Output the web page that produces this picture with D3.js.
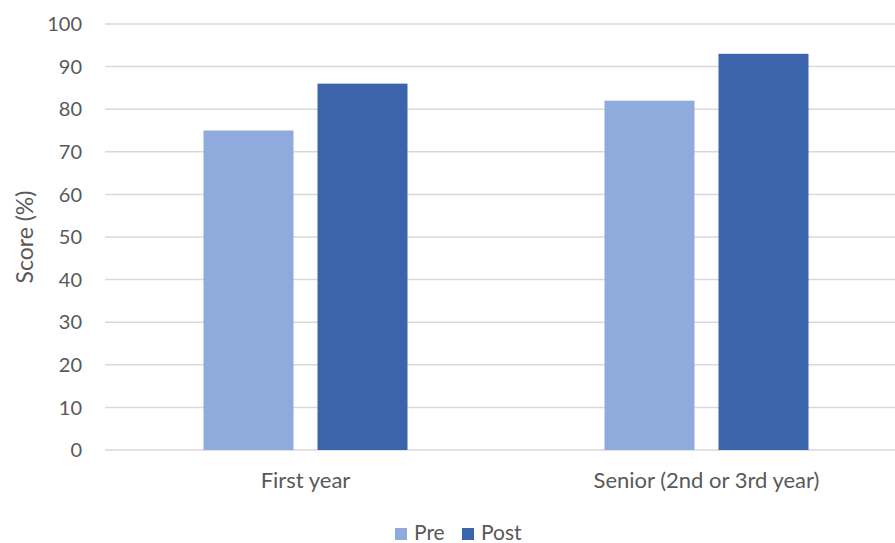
<!DOCTYPE html>
<html lang="en">
<head>
<meta charset="utf-8">
<title>Score chart</title>
<script src="https://cdnjs.cloudflare.com/ajax/libs/d3/7.8.5/d3.min.js"></script>
<style>
  body { margin: 0; background: #fff; }
  text { font-family: Lato, "Open Sans", sans-serif; fill: #595959; }
</style>
</head>
<body>
<div id="chart"></div>
<script>
// data
const categories = ['First year', 'Senior (2nd or 3rd year)'];
const seriesNames = ['Pre', 'Post'];
const preValues = [75, 82];
const postValues = [86, 93];
const yTicks = [0, 10, 20, 30, 40, 50, 60, 70, 80, 90, 100];

const w = 895, h = 543;
const colors = { Pre: '#8faadc', Post: '#3c64ad' };

const rows = categories.map((c, i) => ({ cat: c, Pre: preValues[i], Post: postValues[i] }));

const svg = d3.select('#chart').append('svg')
  .attr('width', w)
  .attr('height', h);

const y = d3.scaleLinear().domain([0, 100]).range([450, 24]);
const x = d3.scaleBand().domain(categories).range([105, 907]).padding(0);
const xs = d3.scaleBand().domain(seriesNames)
  .range([x.bandwidth() / 2 - 102, x.bandwidth() / 2 + 102])
  .paddingInner(0.2105).paddingOuter(0);

// gridlines
svg.append('g')
  .selectAll('line')
  .data(yTicks)
  .enter()
  .append('line')
    .attr('x1', 105)
    .attr('x2', w)
    .attr('y1', d => y(d))
    .attr('y2', d => y(d))
    .attr('stroke', '#d9d9d9')
    .attr('stroke-width', 1.5);

// y tick labels
svg.append('g')
  .selectAll('text')
  .data(yTicks)
  .enter()
  .append('text')
    .attr('x', 82)
    .attr('y', d => y(d))
    .attr('dy', '0.36em')
    .attr('text-anchor', 'end')
    .attr('font-size', 20)
    .text(d => d);

// bars
const groups = svg.append('g')
  .selectAll('g')
  .data(rows)
  .enter()
  .append('g')
    .attr('transform', d => 'translate(' + x(d.cat) + ',0)');

groups.selectAll('rect')
  .data(d => seriesNames.map(s => ({ key: s, value: d[s] })))
  .enter()
  .append('rect')
    .attr('x', d => xs(d.key))
    .attr('width', xs.bandwidth())
    .attr('y', d => y(d.value))
    .attr('height', d => y(0) - y(d.value))
    .attr('fill', d => colors[d.key]);

// category labels
svg.append('g')
  .selectAll('text')
  .data(categories)
  .enter()
  .append('text')
    .attr('x', d => x(d) + x.bandwidth() / 2)
    .attr('y', 488)
    .attr('text-anchor', 'middle')
    .attr('font-size', 22)
    .text(d => d);

// axis title
svg.append('text')
  .attr('transform', 'translate(33,237) rotate(-90)')
  .attr('text-anchor', 'middle')
  .attr('font-size', 23)
  .text('Score (%)');

// legend
const legendX = [395, 462];
const legend = svg.append('g')
  .selectAll('g')
  .data(seriesNames)
  .enter()
  .append('g')
    .attr('transform', (d, i) => 'translate(' + legendX[i] + ',528)');

legend.append('rect')
  .attr('width', 12)
  .attr('height', 12)
  .attr('fill', d => colors[d]);

legend.append('text')
  .attr('x', 19)
  .attr('y', 12)
  .attr('font-size', 21)
  .text(d => d);
</script>
</body>
</html>
